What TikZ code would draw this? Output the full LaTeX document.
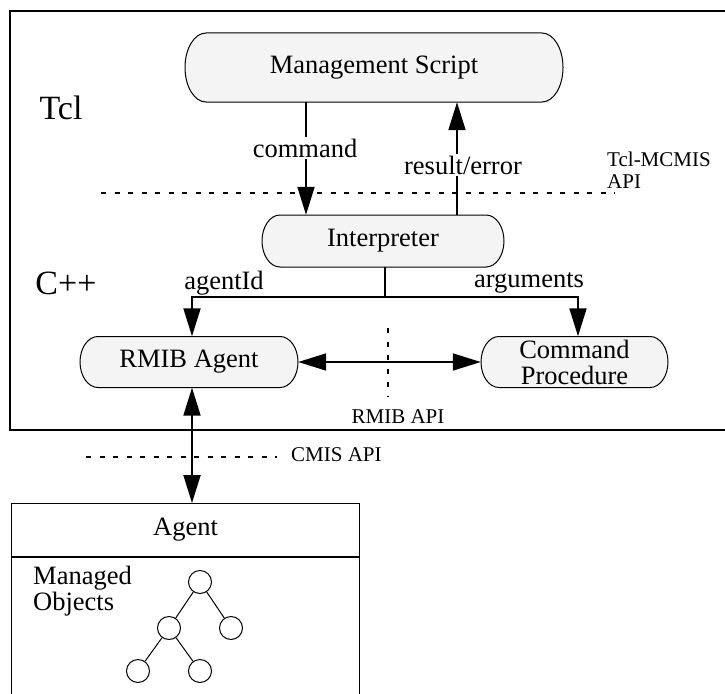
\documentclass[tikz,border=0pt]{standalone}
\usepackage{fontspec}
\setmainfont{Liberation Serif}
\usetikzlibrary{arrows.meta,calc}
\definecolor{boxfill}{HTML}{F4F4F4}
\tikzset{
  pill/.style={draw, fill=boxfill, line width=1pt},
  lbl/.style={font=\fontsize{26.5}{26}\selectfont, inner sep=0pt, align=center},
  small/.style={font=\fontsize{21}{22}\selectfont, inner sep=0pt, align=left},
  big/.style={font=\fontsize{34}{36}\selectfont, inner sep=0pt},
  tip/.tip={Triangle[length=28pt,width=17pt]},
  arr/.style={line width=1.8pt, -tip},
  darr/.style={line width=1.8pt, tip-tip},
  api/.style={line width=1.4pt, dash pattern=on 5pt off 8.5pt},
  tnode/.style={circle, draw, line width=1pt, minimum size=23pt, inner sep=0pt},
  tedge/.style={line width=1pt},
  onwhite/.style={fill=white, inner sep=2pt},
}
% cx cy halfwidth halfheight rx
\newcommand\pillshape[5]{%
  \draw[pill] ({#1-#3+#5},{#2-#4}) -- ({#1+#3-#5},{#2-#4})
    arc[start angle=90,end angle=-90,x radius=#5pt,y radius=#4pt]
    -- ({#1-#3+#5},{#2+#4})
    arc[start angle=270,end angle=90,x radius=#5pt,y radius=#4pt] -- cycle;}
\begin{document}
\begin{tikzpicture}[x=1pt,y=-1pt]
\useasboundingbox (0,0) rectangle (725,693);
\clip (0,0) rectangle (725,693);

% outer frame
\draw[line width=2.2pt] (10,11) rectangle (730,430);

% pills
\pillshape{374}{67.5}{189}{34.5}{21}
\node[lbl, minimum width=378pt, minimum height=69pt] (ms) at (374,67.5) {Management Script};
\pillshape{383}{241}{121}{26}{18}
\node[lbl, minimum width=242pt, minimum height=52pt] (interp) at (383,241) {Interpreter};
\pillshape{189}{362}{109}{25.5}{18}
\node[lbl, minimum width=218pt, minimum height=51pt] (rmib) at (189,362) {RMIB Agent};
\pillshape{574.5}{362}{93.5}{25.5}{18}
\node[lbl, minimum width=187pt, minimum height=51pt] (cp) at (574.5,362) {Command\\Procedure};

% layer labels
\node[big] (tcl) at (61,108) {Tcl};
\node[big] (cpp) at (66,283) {C++};

% helper coordinates
\coordinate (xcmd) at (306,0);
\coordinate (xres) at (457,0);
\coordinate (xmid) at (385,297);
\coordinate (bl) at (192,297);
\coordinate (br) at (578,297);

% command / result
\draw[arr] (ms.south -| xcmd) -- (interp.north -| xcmd);
\draw[arr] (interp.north -| xres) -- (ms.south -| xres);
\node[lbl, onwhite] (lcmd) at (305,148) {command};
\node[lbl, onwhite] (lres) at (463,165) {result/error};

% Tcl-MCMIS API line
\coordinate (ta) at (101,193);
\coordinate (tb) at (615,193);
\draw[api] (ta) -- (tb);
\node[small, anchor=base west] (tclapi) at (607,188) {Tcl-MCMIS\\API};

% branch
\draw[line width=1.8pt] (interp.south -| xmid) -- (xmid);
\draw[arr] (xmid) -- (bl) -- (rmib.north -| bl);
\draw[arr] (xmid) -- (br) -- (cp.north -| br);
\node[lbl] (lagent) at (224,283) {agentId};
\node[lbl] (largs) at (529,283) {arguments};

% RMIB <-> CP
\draw[darr] (rmib.east) -- (cp.west);
\coordinate (ra) at (388,328);
\coordinate (rb) at (388,397);
\draw[api] (ra) -- (rb);
\node[small] (rmibapi) at (398,417) {RMIB API};

% CMIS API
\coordinate (ca) at (86,457);
\coordinate (cb) at (277,457);
\draw[api] (ca) -- (cb);
\node[small, anchor=west] (cmisapi) at (291,455) {CMIS API};

% Agent box
\node[lbl, draw, line width=1pt, minimum width=348pt, minimum height=53pt, anchor=north west] (agent) at (11,503) {Agent};
\node[draw, line width=1pt, minimum width=348pt, minimum height=180pt, anchor=north west] (objs) at (agent.south west) {};
\draw[darr] (rmib.south -| bl) -- (agent.north -| bl);

\node[lbl, align=left, anchor=west] (mo) at (33,591.5) {Managed\\Objects};

% tree
\node[tnode] (t1) at (200,582) {};
\node[tnode] (t2) at (169,628) {};
\node[tnode] (t3) at (231,628) {};
\node[tnode] (t4) at (138,671) {};
\node[tnode] (t5) at (200,671) {};
\draw[tedge] (t1) -- (t2);
\draw[tedge] (t1) -- (t3);
\draw[tedge] (t2) -- (t4);
\draw[tedge] (t2) -- (t5);
\end{tikzpicture}
\end{document}
